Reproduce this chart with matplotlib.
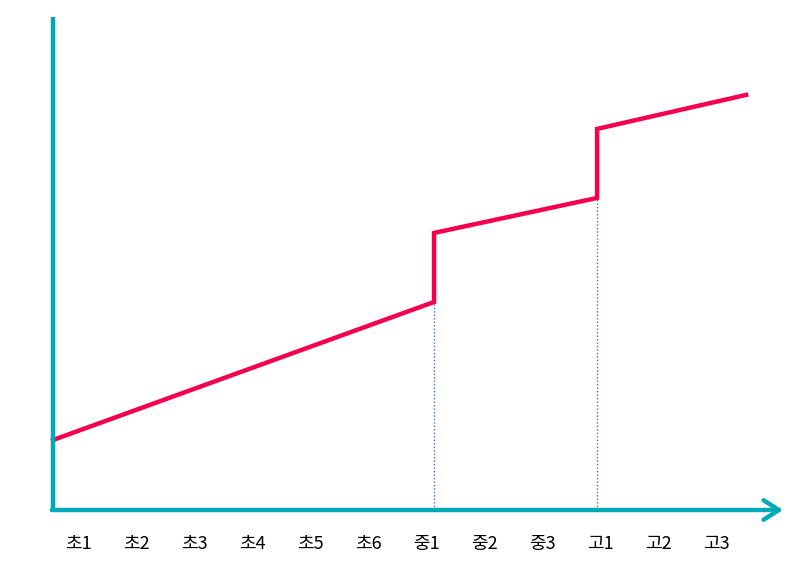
import matplotlib.pyplot as plt

plt.rcParams['font.family'] = ['Noto Sans CJK KR', 'DejaVu Sans']

# grade labels along the x axis
labels = ['초1', '초2', '초3', '초4', '초5', '초6', '중1', '중2', '중3', '고1', '고2', '고3']
label_x = [0.43 + i for i in range(len(labels))]

# stepped red line (x in label-spacing units, y on a 0-100 scale)
line_x = [0.0, 6.57, 6.57, 9.38, 9.38, 11.95]
line_y = [14.2, 42.2, 56.2, 63.3, 77.3, 84.2]

# dotted guides at the two jumps
guide_x = [6.57, 9.38]
guide_top = [42.2, 63.3]

teal = '#00A9B8'
red = '#F5004F'

fig = plt.figure(figsize=(8.09, 5.83), dpi=100)
ax = fig.add_axes([0, 0, 1, 1])
px = 58.0
py = 4.93
ax.set_xlim(-53 / px, (809 - 53) / px)
ax.set_ylim(-(583 - 510) / py, 510 / py)
ax.axis('off')

for gx, gt in zip(guide_x, guide_top):
    ax.plot([gx, gx], [0, gt], color='#4472C4', lw=1.0, ls=(0, (1, 1.5)), zorder=1)

ax.plot(line_x, line_y, color=red, lw=3.2, solid_joinstyle='miter', zorder=3)

# axes
ax.plot([0, 0], [0, 100], color=teal, lw=3.2, solid_capstyle='butt', zorder=4)
ax.annotate('', xy=((783 - 53) / px, 0), xytext=(-0.02, 0),
            arrowprops=dict(arrowstyle='->,head_length=0.55,head_width=0.35',
                            color=teal, lw=3.2, mutation_scale=20,
                            shrinkA=0, shrinkB=0), zorder=4)

for lx, lab in zip(label_x, labels):
    ax.text(lx, -34 / py, lab, ha='center', va='center', fontsize=13, color='black')

fig.savefig('out.png', dpi=100)
